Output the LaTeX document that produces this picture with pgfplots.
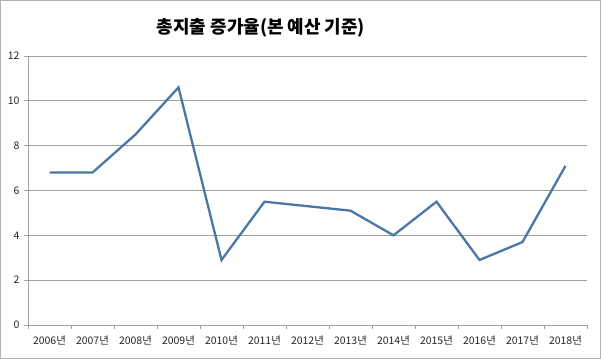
\documentclass[border=0pt]{standalone}
\usepackage{fontspec}
\setmainfont{Noto Sans CJK KR}
\usepackage{pgfplots}
\pgfplotsset{compat=1.18}
\definecolor{linec}{RGB}{74,118,168}
\definecolor{gridc}{RGB}{160,160,160}
\begin{document}
\begin{tikzpicture}
\path[use as bounding box] (0,0) rectangle (601bp,359bp);
\draw[gridc!80, line width=1.2bp] (0.6bp,0.6bp) rectangle (600.4bp,358.4bp);
\node[font=\fontsize{18}{21}\selectfont\bfseries] at (261bp,331bp) {총지출 증가율(본 예산 기준)};
\begin{axis}[
  at={(28bp,34bp)}, anchor=south west,
  scale only axis, width=559bp, height=269bp,
  xmin=-0.5, xmax=12.5, ymin=0, ymax=12,
  ytick={0,2,...,12},
  xtick={0,...,12},
  xticklabels={2006년,2007년,2008년,2009년,2010년,2011년,2012년,2013년,2014년,2015년,2016년,2017년,2018년},
  minor xtick={-0.5,0.5,...,12.5},
  axis x line*=bottom, axis y line*=left,
  axis line style={gridc, line width=0.8bp, -},
  ymajorgrids, grid style={gridc, line width=0.8bp},
  tick align=outside,
  major tick length=4bp, minor tick length=4bp,
  x tick style={draw=none},
  minor x tick style={draw=gridc, line width=0.8bp},
  y tick style={draw=gridc, line width=0.8bp},
  tick label style={font=\fontsize{10.5}{12}\selectfont, text=black!85},
  /pgf/number format/assume math mode=true,
  xticklabel style={yshift=-3bp},
  yticklabel style={xshift=-1bp},
  clip=false,
]
\addplot[linec, line width=2.3bp, line join=miter] coordinates {
(0,6.8) (1,6.8) (2,8.5) (3,10.6) (4,2.9) (5,5.5) (6,5.3) (7,5.1) (8,4.0) (9,5.5) (10,2.9) (11,3.7) (12,7.1)
};
\end{axis}
\end{tikzpicture}
\end{document}
